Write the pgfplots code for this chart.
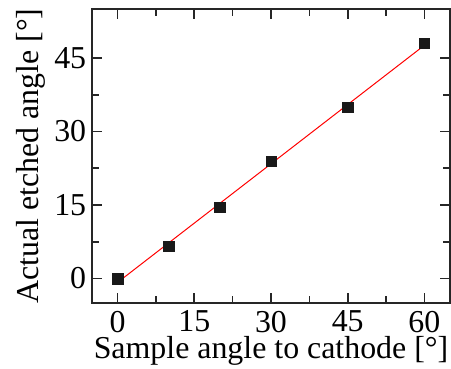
\documentclass[border=0pt]{standalone}
\usepackage{fontspec}
\setmainfont{Liberation Serif}
\usepackage{pgfplots}
\pgfplotsset{compat=1.18}
\begin{document}
\fontsize{32}{36}\selectfont
\begin{tikzpicture}[x=1bp,y=1bp]
\useasboundingbox (-92bp,-66bp) rectangle (359bp,303bp);
\begin{axis}[
  scale only axis,
  width=358bp, height=294bp,
  xmin=-5, xmax=65, ymin=-5, ymax=55,
  xtick={0,15,30,45,60}, ytick={0,15,30,45},
  minor x tick num=1, minor y tick num=1,
  tick align=inside,
  major tick length=10bp, minor tick length=7bp,
  every tick/.style={line width=1.6pt, black!85},
  axis line style={line width=1.8pt, black!85},
  tick label style={font=\fontsize{32}{36}\selectfont},
  label style={font=\fontsize{32}{36}\selectfont},
  /pgf/number format/assume math mode=true,
  xlabel={Sample angle to cathode [°]},
  ylabel={Actual etched angle [°]},
  xlabel style={yshift=17bp},
  ylabel style={yshift=-13bp},
  xticklabel style={yshift=3bp},
  yticklabel style={xshift=5bp},
  clip=false,
]
\addplot[red, line width=1pt] coordinates {(0,-0.8) (60,47.6)};
\addplot[only marks, mark=square*, mark size=5.2bp, black!90, fill=black!90] coordinates {
(0,0) (10,6.6) (20,14.6) (30,24.0) (45,34.9) (60,48.0)};
\end{axis}
\end{tikzpicture}
\end{document}
